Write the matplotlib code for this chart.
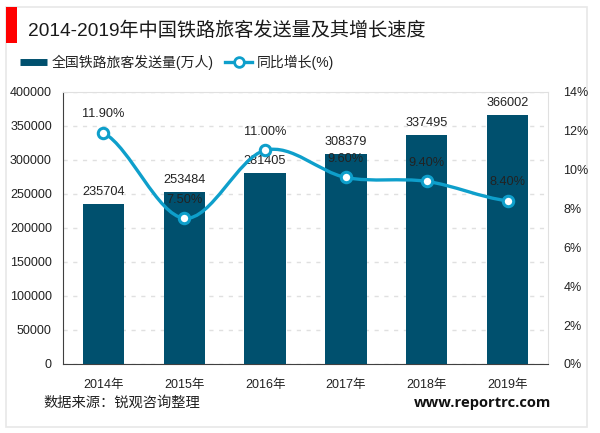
import matplotlib
matplotlib.use('Agg')
import matplotlib.pyplot as plt
from matplotlib.lines import Line2D
from matplotlib.patches import Rectangle, PathPatch
from matplotlib.path import Path

plt.rcParams['font.family'] = ['Liberation Sans', 'Noto Sans CJK SC', 'DejaVu Sans']

# data
years = ['2014年', '2015年', '2016年', '2017年', '2018年', '2019年']
passengers = [235704, 253484, 281405, 308379, 337495, 366002]
growth = [11.9, 7.5, 11.0, 9.6, 9.4, 8.4]
growth_labels = ['11.90%', '7.50%', '11.00%', '9.60%', '9.40%', '8.40%']
left_ticks = [0, 50000, 100000, 150000, 200000, 250000, 300000, 350000, 400000]
right_ticks = [0, 2, 4, 6, 8, 10, 12, 14]

W, H = 600, 433
bar_color = '#00506E'
line_color = '#0E9FCB'
text_color = '#222222'

fig = plt.figure(figsize=(W / 100, H / 100), dpi=100, facecolor='white')
ax = fig.add_axes([63 / W, 1 - 364 / H, 485 / W, 272 / H])
ax2 = ax.twinx()

# bars
x = list(range(len(years)))
ax.bar(x, passengers, width=0.51, color=bar_color, zorder=3)
ax.set_xlim(-0.5, 5.5)
ax.set_ylim(0, 400000)
ax.set_yticks(left_ticks)
ax.set_xticks(x)
ax.set_xticklabels(years)
ax.yaxis.grid(True, color='#E0E0E0', linestyle=(0, (3, 4)), linewidth=1)
ax.set_axisbelow(True)
ax.tick_params(axis='y', length=0, pad=8, labelsize=9, labelcolor=text_color)
ax.tick_params(axis='x', length=0, pad=11, labelsize=9, labelcolor=text_color)
ax.spines['left'].set_color('#404040')
ax.spines['bottom'].set_color('#404040')
ax.spines['top'].set_color('#E0E0E0')
ax.spines['right'].set_color('#E0E0E0')

# smoothed growth line, bezier handles from neighbouring points
ax2.set_ylim(0, 14)
ax2.set_yticks(right_ticks)
ax2.set_yticklabels([f'{t}%' for t in right_ticks])
ax2.tick_params(axis='y', length=0, pad=11, labelsize=9, labelcolor=text_color)
for s in ax2.spines.values():
    s.set_visible(False)
verts = [(x[0], growth[0])]
codes = [Path.MOVETO]
for i in range(len(x) - 1):
    p0 = growth[max(i - 1, 0)]
    p1 = growth[i]
    p2 = growth[i + 1]
    p3 = growth[min(i + 2, len(x) - 1)]
    verts += [(x[i] + 1 / 3, p1 + (p2 - p0) / 6), (x[i + 1] - 1 / 3, p2 - (p3 - p1) / 6), (x[i + 1], p2)]
    codes += [Path.CURVE4] * 3
ax2.add_patch(PathPatch(Path(verts, codes), fill=False, edgecolor=line_color, linewidth=2.4, zorder=4))
ax2.plot(x, growth, linestyle='none', marker='o', markersize=7.5, markerfacecolor='white',
         markeredgecolor=line_color, markeredgewidth=2.2, zorder=5)

# data labels
for i, v in enumerate(passengers):
    ax.annotate(str(v), (x[i], v), xytext=(0, 8.5), textcoords='offset points', ha='center', va='center',
                fontsize=9.2, color=text_color, zorder=6)
for i, v in enumerate(growth):
    ax2.annotate(growth_labels[i], (x[i], v), xytext=(0, 13.5), textcoords='offset points', ha='center',
                 va='center', fontsize=9.2, color=text_color, zorder=6)

# legend
handles = [
    Line2D([], [], color=bar_color, linewidth=5, solid_capstyle='butt'),
    Line2D([], [], color=line_color, linewidth=2.4, marker='o', markersize=7, markerfacecolor='white',
           markeredgecolor=line_color, markeredgewidth=2),
]
fig.legend(handles, ['全国铁路旅客发送量(万人)', '同比增长(%)'], loc='center left',
           bbox_to_anchor=(20 / W, 1 - 62 / H), ncol=2, frameon=False, fontsize=10, handlelength=1.95,
           handletextpad=0.3, columnspacing=0.85, labelcolor=text_color, borderpad=0, borderaxespad=0)

# frame, title and footer
fig.add_artist(Rectangle((6 / W, 1 - 427 / H), 581 / W, 420 / H, transform=fig.transFigure, fill=False,
                         edgecolor='#E8E8E8', linewidth=1.2, zorder=0))
fig.add_artist(Rectangle((6 / W, 1 - 43 / H), 11 / W, 36 / H, transform=fig.transFigure, facecolor='#FF0000',
                         edgecolor='none'))
fig.text(28 / W, 1 - 30.5 / H, '2014-2019年中国铁路旅客发送量及其增长速度', fontsize=13.8, color='#1A1A1A', va='center')
fig.text(43 / W, 1 - 403 / H, '数据来源：锐观咨询整理', fontsize=10.3, color=text_color, va='center')
fig.text(414 / W, 1 - 403 / H, 'www.reportrc.com', fontsize=10.6, color='#111111', va='center',
         family='Open Sans', fontweight='bold')

fig.savefig('out.png', dpi=100)
